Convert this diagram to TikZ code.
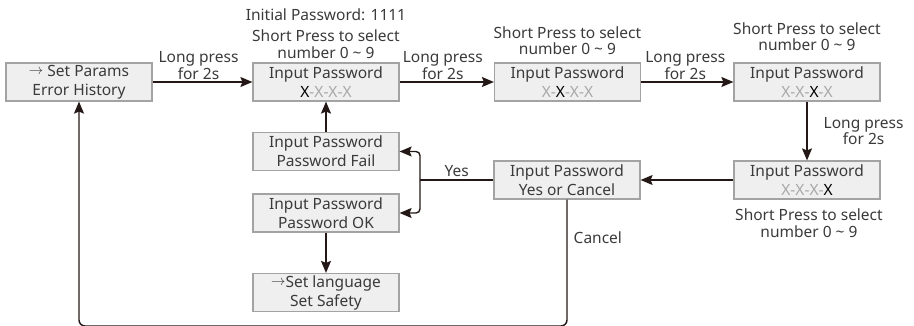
\documentclass[tikz,border=0pt]{standalone}
\usepackage{fontspec}
\setmainfont{Noto Sans}
\usetikzlibrary{arrows.meta}
\definecolor{boxfill}{HTML}{EFEFEF}
\definecolor{boxline}{HTML}{A3A3A3}
\definecolor{txt}{HTML}{3A3A3A}
\definecolor{lgray}{HTML}{A8A8A8}
\definecolor{lin}{HTML}{231815}
\newcommand{\smarrow}{{\fontsize{14}{14}\selectfont\raisebox{1.5pt}{$\rightarrow$}}}
\newcommand{\gX}{\textcolor{lgray}{X}}
\newcommand{\gH}{\textcolor{lgray}{-}}
\newcommand{\bX}{\textcolor{black}{X}}
\begin{document}
\begin{tikzpicture}[x=1pt,y=-1pt,
  box/.style={draw=boxline, fill=boxfill, line width=1.2pt, minimum width=146pt,
    minimum height=38pt, inner sep=0pt, align=center,
    font=\fontsize{15.5}{19}\selectfont, text=txt},
  lbl/.style={align=center, font=\fontsize{15.5}{16.5}\selectfont, text=txt, inner sep=0pt},
  conn/.style={draw=lin, line width=1.4pt, -{Stealth[length=12pt,width=10pt,inset=2pt]}},
  plain/.style={draw=lin, line width=1.4pt}]
\useasboundingbox (0,0) rectangle (914,326);

% boxes
\node[box] (b1) at (79,82) {\smarrow\ Set Params\\Error History};
\node[box] (b2) at (326,82) {Input Password\\\bX\gH\gX\gH\gX\gH\gX};
\node[box] (b3) at (567.5,82) {Input Password\\\gX\gH\bX\gH\gX\gH\gX};
\node[box] (b4) at (807,82) {Input Password\\\gX\gH\gX\gH\bX\gH\gX};
\node[box] (b5) at (807,180) {Input Password\\\gX\gH\gX\gH\gX\gH\bX};
\node[box] (yc) at (567,180) {Input Password\\Yes or Cancel};
\node[box] (fail) at (326,151.5) {Input Password\\Password Fail};
\node[box] (ok) at (326,213) {Input Password\\Password OK};
\node[box] (lang) at (326,292.5) {\smarrow Set language\\Set Safety};

% texts above / below boxes
\node[lbl] (t0) at (326,15) {Initial Password: 1111};
\node[lbl] (t2) at (326,44) {Short Press to select\\number 0 \textasciitilde{} 9};
\node[lbl] (t3) at (567.5,40.5) {Short Press to select\\number 0 \textasciitilde{} 9};
\node[lbl] (t4) at (807,36.5) {Short Press to select\\number 0 \textasciitilde{} 9};
\node[lbl] (t5) at (809,223) {Short Press to select\\number 0 \textasciitilde{} 9};

% connectors
\draw[conn] (b1) -- node[lbl, above=2pt, xshift=-4pt] {Long press\\for 2s} (b2);
\draw[conn] (b2) -- node[lbl, above=2pt, xshift=-4pt] {Long press\\for 2s} (b3);
\draw[conn] (b3) -- node[lbl, above=2pt, xshift=-2pt] {Long press\\for 2s} (b4);
\draw[conn] (b4) -- node[lbl, right=16pt] {Long press\\for 2s} (b5);
\draw[conn] (b5) -- (yc);

\coordinate (br) at (420,180);
\draw[plain] (yc.west) -- node[lbl, above=3pt] {Yes} (br);
\draw[conn, rounded corners=4pt] (br) |- (fail.east);
\draw[conn, rounded corners=4pt] (br) |- (ok.east);

\draw[conn] (fail) -- (b2);
\draw[conn] (ok) -- (lang);

\coordinate (lp) at (567,326);
\draw[conn, rounded corners=6pt] (yc.south) -- node[lbl, right=6pt, pos=0.3] {Cancel} (lp) -| (b1.south);
\end{tikzpicture}
\end{document}
